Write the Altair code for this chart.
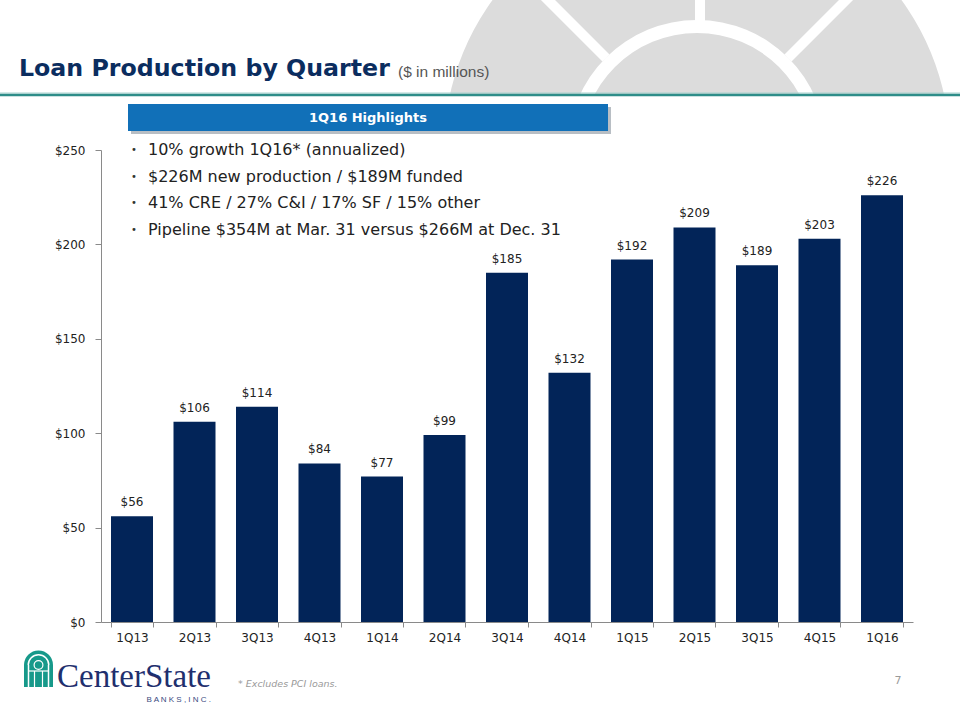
import altair as alt
import pandas as pd

# ---- data ----
quarters = ["1Q13", "2Q13", "3Q13", "4Q13", "1Q14", "2Q14", "3Q14",
            "4Q14", "1Q15", "2Q15", "3Q15", "4Q15", "1Q16"]
production = [56, 106, 114, 84, 77, 99, 185, 132, 192, 209, 189, 203, 226]
y_ticks = [0, 50, 100, 150, 200, 250]

title_text = "Loan Production by Quarter"
subtitle_text = "($ in millions)"
box_text = "1Q16 Highlights"
bullet_lines = [
    "10% growth 1Q16* (annualized)",
    "$226M new production / $189M funded",
    "41% CRE / 27% C&I / 17% SF / 15% other",
    "Pipeline $354M at Mar. 31 versus $266M at Dec. 31",
]
footnote_text = "* Excludes PCI  loans."
page_number = "7"
logo_name = "CenterState"
logo_sub = "B A N K S ,   I N C ."

df = pd.DataFrame({"quarter": quarters, "value": production})
df["label"] = ["$" + str(v) for v in production]

one = alt.Data(values=[{"a": 1}])
NAVY = "#022458"
TEAL = "#17998a"
PI = 3.14159265


def arc(cx, cy, r_out, r_in, t0, t1, color):
    return alt.Chart(one).mark_arc(stroke=None).encode(
        x=alt.value(cx), y=alt.value(cy),
        theta=alt.value(t0), theta2=alt.value(t1),
        radius=alt.value(r_out), radius2=alt.value(r_in),
        color=alt.value(color))


def rule(x1, y1, x2, y2, color, w):
    return alt.Chart(one).mark_rule(color=color, strokeWidth=w).encode(
        x=alt.value(x1), y=alt.value(y1), x2=alt.value(x2), y2=alt.value(y2))


def rect(x1, y1, x2, y2, color, opacity=1.0):
    return alt.Chart(one).mark_rect(color=color, opacity=opacity).encode(
        x=alt.value(x1), y=alt.value(y1), x2=alt.value(x2), y2=alt.value(y2))


def text(x, y, t, **kw):
    return alt.Chart(one).mark_text(**kw).encode(
        x=alt.value(x), y=alt.value(y), text=alt.value(t))


layers = []

# decorative grey circle (top right)
CX, CY = 697, 149
layers.append(arc(CX, CY, 253, 0, 0, 2 * PI, "#dcdcdc"))
layers.append(arc(CX, CY, 129, 116, 0, 2 * PI, "#ffffff"))
layers.append(rule(700, -5, 700, 21, "#ffffff", 10))
layers.append(rule(788, 58, 880, -34, "#ffffff", 10))
layers.append(rule(606, 58, 514, -34, "#ffffff", 10))
# cover below separator
layers.append(rect(0, 95, 960, 410, "#ffffff"))
# separator line
layers.append(rule(0, 93, 960, 93, "#a9d3cf", 1))
layers.append(rule(0, 95, 960, 95, "#2e8d89", 2.5))

# title
layers.append(text(19, 76, title_text, align="left", baseline="alphabetic",
                   font="DejaVu Sans", fontWeight="bold", fontSize=23.7,
                   color="#0b2d5f"))
layers.append(text(398, 77, subtitle_text, align="left", baseline="alphabetic",
                   font="Liberation Sans", fontSize=15.5, color="#555555"))

# highlights box
layers.append(rect(131, 107, 611, 134, "#7d8894", 0.55))
layers.append(rect(128, 104, 608, 131, "#1170b8"))
layers.append(text(368, 118, box_text, align="center", baseline="middle",
                   font="DejaVu Sans", fontWeight="bold", fontSize=13,
                   color="#ffffff"))

# bullets
layers.append(alt.Chart(one).mark_text(
    align="left", baseline="alphabetic", font="DejaVu Sans", fontSize=10,
    lineHeight=26.7, color="#333333").encode(
    x=alt.value(131), y=alt.value(153),
    text=alt.value(["•"] * len(bullet_lines))))
layers.append(alt.Chart(one).mark_text(
    align="left", baseline="alphabetic", font="DejaVu Sans", fontSize=16,
    lineHeight=26.7, color="#222222").encode(
    x=alt.value(148), y=alt.value(155), text=alt.value(bullet_lines)))

# bar chart
xscale = alt.Scale(domain=quarters, range=[101, 913],
                   paddingInner=0.328, paddingOuter=0.16)
yscale = alt.Scale(domain=[0, 250], range=[622, 150], nice=False)

bars = alt.Chart(df).mark_bar(color=NAVY).encode(
    x=alt.X("quarter:N", sort=quarters, scale=xscale,
            axis=alt.Axis(title=None, orient="bottom", offset=-98,
                          tickBand="extent", labelAngle=0, zindex=1,
                          labelFont="DejaVu Sans", labelFontSize=12,
                          labelColor="#222222", domainColor="#8a8a8a",
                          tickColor="#8a8a8a", tickSize=5, labelPadding=5,
                          grid=False)),
    y=alt.Y("value:Q", scale=yscale,
            axis=alt.Axis(title=None, orient="left", offset=-101, zindex=1,
                          values=y_ticks, labelExpr="'$' + datum.value",
                          labelFont="DejaVu Sans", labelFontSize=12,
                          labelColor="#222222", domainColor="#8a8a8a",
                          tickColor="#8a8a8a", tickSize=6, labelPadding=10,
                          grid=False)),
)
labels = alt.Chart(df).mark_text(
    dy=-10, baseline="alphabetic", align="center", font="DejaVu Sans",
    fontSize=12, color="#222222").encode(
    x=alt.X("quarter:N", sort=quarters, scale=xscale),
    y=alt.Y("value:Q", scale=yscale),
    text="label:N")
layers.append(bars)
layers.append(labels)

# logo icon
layers.append(rect(24, 665, 53, 687, TEAL))
layers.append(arc(38.5, 665, 14.5, 0, 1.5 * PI, 2.5 * PI, TEAL))
layers.append(arc(38.5, 665, 11, 9.5, 1.5 * PI, 2.5 * PI, "#ffffff"))
layers.append(rule(28.5, 665, 28.5, 687, "#ffffff", 1.5))
layers.append(rule(48.5, 665, 48.5, 687, "#ffffff", 1.5))
layers.append(rule(29, 671, 48, 671, "#ffffff", 1.2))
layers.append(rule(34.5, 671, 34.5, 687, "#ffffff", 1.2))
layers.append(rule(42.5, 671, 42.5, 687, "#ffffff", 1.2))
layers.append(arc(38.5, 665, 5, 0, 0, 2 * PI, "#ffffff"))
layers.append(arc(38.5, 665, 3.8, 0, 0, 2 * PI, TEAL))
# logo text
layers.append(text(57, 687, logo_name, align="left", baseline="alphabetic",
                   font="Liberation Serif", fontSize=33, color="#1f2f6e"))
layers.append(text(211, 702, logo_sub, align="right", baseline="alphabetic",
                   font="Liberation Sans", fontSize=8, color="#3a4a80"))

# footnote and page number
layers.append(text(238, 687, footnote_text, align="left", baseline="alphabetic",
                   font="DejaVu Sans", fontStyle="italic", fontSize=9.5,
                   color="#9a9a9a"))
layers.append(text(898, 684, page_number, align="center", baseline="alphabetic",
                   font="DejaVu Sans", fontSize=11, color="#9a9a9a"))

chart = alt.layer(*layers).properties(
    width=960, height=720, autosize="none", padding=0, background="#ffffff"
).configure_view(stroke=None)

chart.save("out.html", embed_options={"renderer": "svg", "actions": False})
